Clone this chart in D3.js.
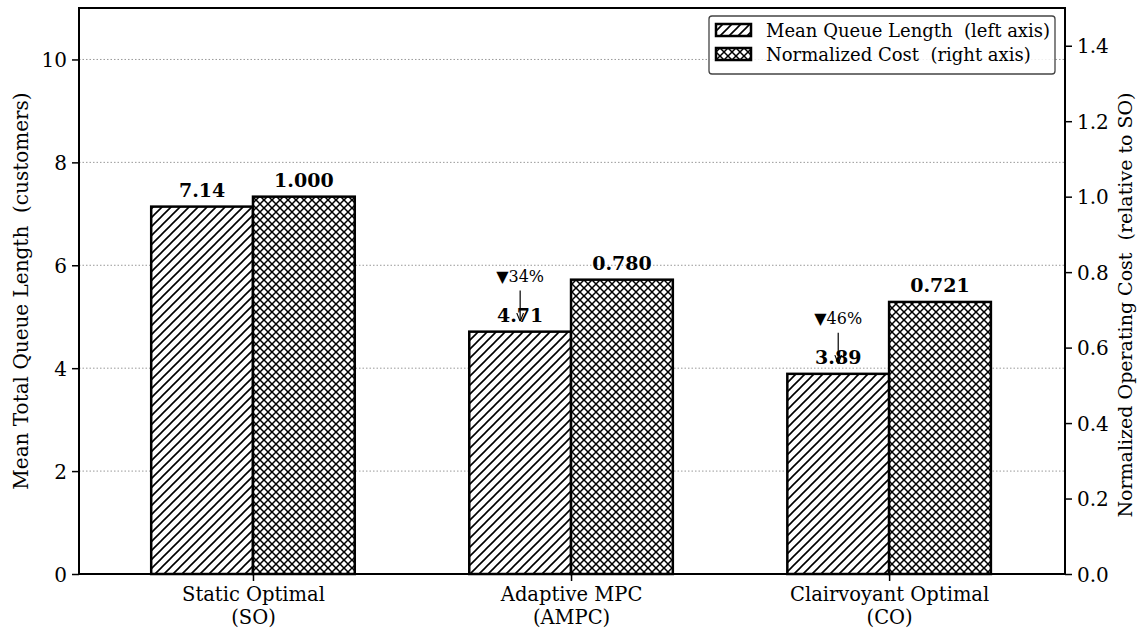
<!DOCTYPE html>
<html><head><meta charset="utf-8">
<script src="https://cdn.jsdelivr.net/npm/d3@7"></script>
<style>body{margin:0;background:#fff}svg{display:block}text{font-family:"DejaVu Serif",serif}</style>
</head><body><svg id="c" width="1138" height="630"></svg>
<script>
const categories = ["Static Optimal\n(SO)", "Adaptive MPC\n(AMPC)", "Clairvoyant Optimal\n(CO)"];
const queueLength = [7.14, 4.71, 3.89];
const normCost = [1.000, 0.780, 0.721];
const queueLabels = ["7.14", "4.71", "3.89"];
const costLabels = ["1.000", "0.780", "0.721"];
const reductions = [null, "▼34%", "▼46%"];
const leftTicks = [0, 2, 4, 6, 8, 10];
const rightTicks = [0, 0.2, 0.4, 0.6, 0.8, 1.0, 1.2, 1.4];

const svg = d3.select("#c");
const L = 79, R = 1065, T = 8, B = 574;
const x = d3.scaleLinear().domain([-0.547, 2.553]).range([L, R]);
const yL = d3.scaleLinear().domain([0, 11]).range([B, T]);
const yR = d3.scaleLinear().domain([0, 1.5]).range([B, T]);
const bw = 0.32;

const defs = svg.append("defs");
const s1 = 9;
const p1 = defs.append("pattern").attr("id","diag").attr("patternUnits","userSpaceOnUse").attr("width",s1).attr("height",s1);
p1.append("rect").attr("width",s1).attr("height",s1).attr("fill","#fff");
p1.append("path").attr("d",`M-1,${s1+1} L${s1+1},-1 M${-s1/2-1},${s1/2+1} L${s1/2+1},${-s1/2-1} M${s1/2-1},${1.5*s1+1} L${1.5*s1+1},${s1/2-1}`)
  .attr("stroke","#000").attr("stroke-width",1.6);
const s2 = 8;
const p2 = defs.append("pattern").attr("id","cross").attr("patternUnits","userSpaceOnUse").attr("width",s2).attr("height",s2);
p2.append("rect").attr("width",s2).attr("height",s2).attr("fill","#fff");
p2.append("path").attr("d",`M-1,-1 L${s2+1},${s2+1} M-1,${s2+1} L${s2+1},-1`).attr("stroke","#000").attr("stroke-width",1.5);

// grid
svg.append("g").selectAll("line").data(leftTicks.filter(d=>d>0)).join("line")
  .attr("x1",L).attr("x2",R).attr("y1",d=>yL(d)).attr("y2",d=>yL(d))
  .attr("stroke","#999").attr("stroke-width",1).attr("stroke-dasharray","1.5,2");

// bars
svg.append("g").selectAll("rect").data(queueLength).join("rect")
  .attr("x",(d,i)=>x(i-bw)).attr("width",(d,i)=>x(i)-x(i-bw)).attr("y",d=>yL(d)).attr("height",d=>B-yL(d))
  .attr("fill","url(#diag)").attr("stroke","#000").attr("stroke-width",2.5);
svg.append("g").selectAll("rect").data(normCost).join("rect")
  .attr("x",(d,i)=>x(i)).attr("width",(d,i)=>x(i+bw)-x(i)).attr("y",d=>yR(d)).attr("height",d=>B-yR(d))
  .attr("fill","url(#cross)").attr("stroke","#000").attr("stroke-width",2.5);

// value labels
svg.append("g").selectAll("text").data(queueLength).join("text")
  .attr("x",(d,i)=>x(i-bw/2)).attr("y",d=>yL(d)-10).attr("text-anchor","middle")
  .attr("font-size",19).attr("font-weight","bold").text((d,i)=>queueLabels[i]);
svg.append("g").selectAll("text").data(normCost).join("text")
  .attr("x",(d,i)=>x(i+bw/2)).attr("y",d=>yR(d)-10).attr("text-anchor","middle")
  .attr("font-size",19).attr("font-weight","bold").text((d,i)=>costLabels[i]);

// reduction annotations
defs.append("marker").attr("id","ah").attr("viewBox","0 0 10 10").attr("refX",10).attr("refY",5)
  .attr("markerWidth",7).attr("markerHeight",7).attr("orient","auto")
  .append("path").attr("d","M0,1 L10,5 L0,9").attr("fill","none").attr("stroke","#000").attr("stroke-width",1.3);
reductions.forEach((r,i)=>{
  if(!r) return;
  const cx = x(i-bw/2), v = queueLength[i];
  svg.append("text").attr("x",cx).attr("y",yL(v+1.1)+7).attr("text-anchor","middle").attr("font-size",16).text(r);
  svg.append("line").attr("x1",cx).attr("x2",cx).attr("y1",yL(v+0.8)).attr("y2",yL(v+0.2))
    .attr("stroke","#000").attr("stroke-width",1.2).attr("marker-end","url(#ah)");
});

// axes
const gl = svg.append("g").attr("transform",`translate(${L},0)`)
  .call(d3.axisLeft(yL).tickValues(leftTicks).tickSize(7).tickPadding(5).tickFormat(d3.format("d")));
const gr = svg.append("g").attr("transform",`translate(${R},0)`)
  .call(d3.axisRight(yR).tickValues(rightTicks).tickSize(7).tickPadding(5).tickFormat(d3.format(".1f")));
const gb = svg.append("g").attr("transform",`translate(0,${B})`)
  .call(d3.axisBottom(x).tickValues([0,1,2]).tickSize(7).tickPadding(4).tickFormat(""));
[gl,gr,gb].forEach(g=>{
  g.select(".domain").remove();
  g.selectAll(".tick line").attr("stroke","#000").attr("stroke-width",1.5);
  g.selectAll(".tick text").attr("font-size",20).attr("fill","#000").attr("font-family","DejaVu Serif");
});
gl.selectAll(".tick text").attr("dy","0.35em");
gr.selectAll(".tick text").attr("dy","0.35em");
gb.selectAll(".tick").each(function(d){
  const g = d3.select(this);
  categories[d].split("\n").forEach((s,k)=>g.append("text").attr("text-anchor","middle").attr("fill","#000")
    .attr("font-size",19.5).attr("x",0).attr("y",27+k*22.5).text(s));
});
svg.append("rect").attr("x",L).attr("y",T).attr("width",R-L).attr("height",B-T).attr("fill","none").attr("stroke","#000").attr("stroke-width",2);

// axis titles
svg.append("text").attr("transform",`translate(28,${(T+B)/2}) rotate(-90)`).attr("text-anchor","middle")
  .attr("font-size",20).style("white-space","pre").text("Mean Total Queue Length  (customers)");
svg.append("text").attr("transform",`translate(1132,${(T+B)/2+14}) rotate(-90)`).attr("text-anchor","middle")
  .attr("font-size",19).style("white-space","pre").text("Normalized Operating Cost  (relative to SO)");

// legend
const lg = svg.append("g");
lg.append("rect").attr("x",709).attr("y",16).attr("width",346).attr("height",58).attr("rx",3)
  .attr("fill","#fff").attr("fill-opacity",0.85).attr("stroke","#444").attr("stroke-width",1.3);
const legItems = [["url(#diag)","Mean Queue Length  (left axis)"],["url(#cross)","Normalized Cost  (right axis)"]];
legItems.forEach((it,k)=>{
  const yy = 24 + k*24;
  lg.append("rect").attr("x",716).attr("y",yy).attr("width",35).attr("height",12).attr("fill",it[0]).attr("stroke","#000").attr("stroke-width",2.5);
  lg.append("text").attr("x",766).attr("y",yy+13).attr("font-size",18).style("white-space","pre").text(it[1]);
});
</script></body></html>
